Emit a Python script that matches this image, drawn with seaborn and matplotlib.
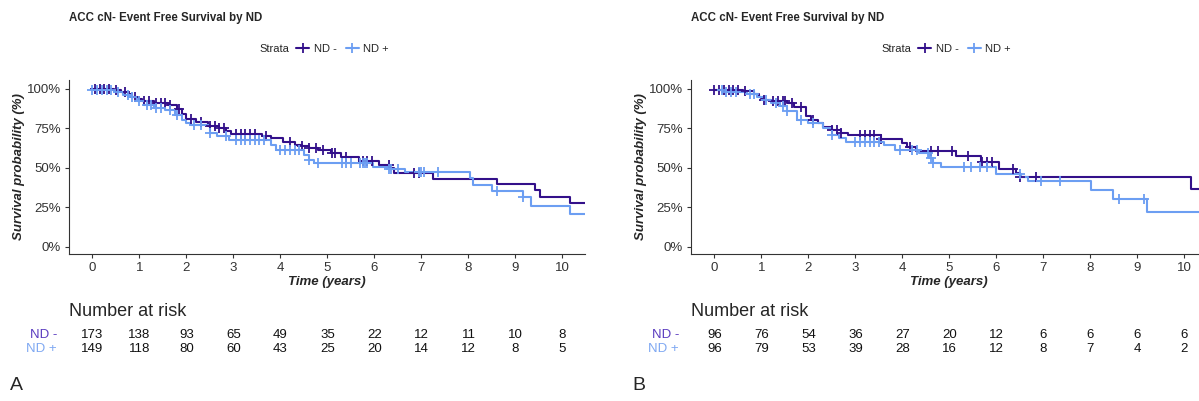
import numpy as np
import pandas as pd
import matplotlib
matplotlib.use("Agg")
import matplotlib.pyplot as plt
import seaborn as sns
from matplotlib.lines import Line2D
from matplotlib.transforms import blended_transform_factory

# ---------------- data ----------------
title = "ACC cN- Event Free Survival by ND"
strata = ["ND -", "ND +"]
risk_times = [0, 1, 2, 3, 4, 5, 6, 7, 8, 9, 10]
y_ticks = [0, 0.25, 0.5, 0.75, 1.0]
y_ticklabels = ["0%", "25%", "50%", "75%", "100%"]

# Panel A
A_neg_t = [0, 0.45, 0.6, 0.75, 0.85, 0.95, 1.05, 1.3, 1.6, 1.8, 1.9, 2.0, 2.2, 2.45, 2.7, 2.85, 2.95,
           3.6, 3.8, 4.05, 4.3, 4.45, 4.6, 4.8, 5.07, 5.28, 5.68, 6.1, 6.32, 6.42, 7.24, 8.6, 9.42,
           9.52, 10.16, 10.48]
A_neg_s = [1.0, 0.99, 0.98, 0.965, 0.95, 0.935, 0.92, 0.91, 0.895, 0.87, 0.84, 0.81, 0.79, 0.765,
           0.75, 0.73, 0.715, 0.70, 0.69, 0.665, 0.645, 0.635, 0.625, 0.61, 0.592, 0.567, 0.545,
           0.518, 0.497, 0.465, 0.431, 0.395, 0.359, 0.313, 0.275, 0.275]
A_pos_t = [0, 0.45, 0.65, 0.8, 0.95, 1.1, 1.3, 1.55, 1.75, 1.9, 2.0, 2.1, 2.5, 2.65, 2.9, 3.8, 3.9,
           4.5, 4.6, 4.72, 5.96, 6.3, 6.64, 8.03, 8.1, 8.5, 9.17, 9.34, 10.16, 10.48]
A_pos_s = [0.99, 0.98, 0.96, 0.945, 0.925, 0.9, 0.88, 0.865, 0.835, 0.80, 0.785, 0.77, 0.72, 0.70,
           0.676, 0.645, 0.613, 0.58, 0.55, 0.529, 0.507, 0.495, 0.474, 0.433, 0.391, 0.355, 0.313,
           0.258, 0.211, 0.211]
A_neg_cens = [0.05, 0.15, 0.25, 0.35, 0.5, 0.7, 0.9, 1.1, 1.2, 1.35, 1.45, 1.55, 1.65, 1.85, 2.1,
              2.3, 2.5, 2.6, 2.7, 2.8, 3.05, 3.15, 3.25, 3.35, 3.45, 3.7, 4.2, 4.45, 4.6, 4.75,
              4.9, 5.1, 5.15, 5.4, 5.75, 5.85, 5.95, 6.3, 6.85, 6.95]
A_pos_cens = [0.0, 0.1, 0.2, 0.3, 0.4, 0.55, 0.75, 0.85, 1.0, 1.15, 1.25, 1.35, 1.45, 1.65, 1.8,
              2.15, 2.3, 2.5, 2.85, 3.05, 3.15, 3.25, 3.35, 3.45, 3.55, 3.65, 4.0, 4.1, 4.2, 4.3,
              4.4, 4.6, 4.8, 5.3, 5.4, 5.5, 5.7, 5.75, 5.8, 5.85, 6.3, 6.35, 6.5, 6.95, 7.0, 7.05,
              7.35, 8.6, 9.17]
A_neg_risk = [173, 138, 93, 65, 49, 35, 22, 12, 11, 10, 8]
A_pos_risk = [149, 118, 80, 60, 43, 25, 20, 14, 12, 8, 5]

# Panel B
B_neg_t = [0, 0.6, 0.85, 0.95, 1.0, 1.05, 1.2, 1.55, 1.7, 1.95, 2.05, 2.2, 2.3, 2.5, 2.7, 2.85,
           3.55, 4.0, 4.1, 4.28, 5.14, 5.67, 6.06, 6.42, 6.5, 10.14, 10.6]
B_neg_s = [0.99, 0.983, 0.968, 0.95, 0.94, 0.93, 0.92, 0.909, 0.884, 0.825, 0.803, 0.782, 0.757,
           0.74, 0.719, 0.708, 0.681, 0.655, 0.634, 0.607, 0.575, 0.539, 0.493, 0.465, 0.44,
           0.368, 0.368]
B_pos_t = [0, 0.2, 0.7, 0.9, 1.05, 1.2, 1.4, 1.55, 1.75, 2.0, 2.3, 2.5, 2.65, 2.8, 3.6, 3.85, 4.35,
           4.57, 4.64, 4.82, 5.99, 6.53, 6.67, 8.02, 8.48, 9.2, 10.6]
B_pos_s = [0.99, 0.98, 0.968, 0.95, 0.93, 0.909, 0.888, 0.856, 0.803, 0.782, 0.75, 0.708, 0.687,
           0.666, 0.645, 0.61, 0.595, 0.56, 0.533, 0.503, 0.461, 0.444, 0.419, 0.359, 0.302,
           0.222, 0.222]
B_neg_cens = [0.0, 0.1, 0.2, 0.3, 0.4, 0.5, 0.65, 1.05, 1.25, 1.35, 1.45, 1.5, 1.65, 1.85, 2.1,
              2.5, 2.6, 2.7, 3.1, 3.2, 3.3, 3.4, 3.55, 4.15, 4.6, 4.75, 5.05, 5.4, 5.7, 5.8, 5.9,
              6.35, 6.5, 6.85]
B_pos_cens = [0.15, 0.25, 0.35, 0.45, 0.75, 0.85, 1.1, 1.3, 1.45, 1.55, 1.85, 2.1, 2.5, 3.0, 3.1,
              3.2, 3.3, 3.4, 3.5, 3.95, 4.2, 4.3, 4.55, 4.6, 4.65, 5.3, 5.45, 5.65, 5.8, 6.5, 6.95,
              7.35, 8.6, 9.15]
B_neg_risk = [96, 76, 54, 36, 27, 20, 12, 6, 6, 6, 6]
B_pos_risk = [96, 79, 53, 39, 28, 16, 12, 8, 7, 4, 2]

# ---------------- style ----------------
col_neg = "#33108A"
col_pos = "#6C9EF2"
txt_neg = "#5B3CC0"
txt_pos = "#7FA8F2"

sns.set_theme(style="white")
plt.rcParams["font.family"] = ["Liberation Sans", "DejaVu Sans"]

W, H = 1199, 401
fig = plt.figure(figsize=(W / 100, H / 100), dpi=100)


def step_at(times, surv, t):
    idx = np.searchsorted(np.array(times), t, side="right") - 1
    return np.array(surv)[np.clip(idx, 0, len(surv) - 1)]


def panel(x0, letter, neg_t, neg_s, pos_t, pos_s, neg_c, pos_c, neg_r, pos_r):
    # x0: pixel position of left axis line
    ax = fig.add_axes([x0 / W, 1 - 254 / H, 516 / W, (254 - 80) / H])
    for t, s, c, col, lab in [(neg_t, neg_s, neg_c, col_neg, strata[0]),
                              (pos_t, pos_s, pos_c, col_pos, strata[1])]:
        df = pd.DataFrame({"t": t, "s": s})
        sns.lineplot(data=df, x="t", y="s", drawstyle="steps-post", color=col,
                     linewidth=1.5, estimator=None, ax=ax)
        cdf = pd.DataFrame({"t": c, "s": step_at(t, s, np.array(c))})
        sns.scatterplot(data=cdf, x="t", y="s", marker="+", s=50, linewidth=1.3,
                        color=col, ax=ax, zorder=3)
    ax.set_xlim(-0.5, 10.48)
    ax.set_ylim(-0.045, 1.055)
    ax.set_xticks(risk_times)
    ax.set_yticks(y_ticks)
    ax.set_yticklabels(y_ticklabels)
    ax.tick_params(axis="both", which="both", length=3, width=0.8, color="#333333",
                   labelsize=9.5, labelcolor="#333333", pad=3, left=True, bottom=True)
    for side in ["top", "right"]:
        ax.spines[side].set_visible(False)
    for side in ["left", "bottom"]:
        ax.spines[side].set_color("#333333")
        ax.spines[side].set_linewidth(0.8)
    ax.set_xlabel("Time (years)", fontsize=9.5, fontweight="bold", fontstyle="italic",
                  labelpad=1)
    ax.set_ylabel("Survival probability (%)", fontsize=9.5, fontweight="bold",
                  fontstyle="italic", labelpad=1)
    ax.text(0, 1.356, title, transform=ax.transAxes, fontsize=8.3, fontweight="bold",
            ha="left", va="center")
    # legend
    handles = [Line2D([0], [0], color=col_neg, lw=1.5, marker="+", markersize=7,
                      markeredgewidth=1.3),
               Line2D([0], [0], color=col_pos, lw=1.5, marker="+", markersize=7,
                      markeredgewidth=1.3)]
    ax.legend(handles, strata, ncol=2, loc="center left", frameon=False,
              bbox_to_anchor=(0.44, 1.178), fontsize=8, handlelength=1.2,
              handletextpad=0.4, columnspacing=0.8, borderaxespad=0, borderpad=0)
    ax.text(0.428, 1.178, "Strata", transform=ax.transAxes, fontsize=8, ha="right",
            va="center")
    # risk table
    tr = blended_transform_factory(ax.transData, fig.transFigure)
    fig.text(x0 / W, 1 - 312 / H, "Number at risk", fontsize=13, ha="left",
             va="center")
    for r, y, tcol, lab in [(neg_r, 335, txt_neg, strata[0]), (pos_r, 349, txt_pos, strata[1])]:
        fig.text((x0 - 12) / W, 1 - y / H, lab, fontsize=9.5, color=tcol, ha="right",
                 va="center")
        for t, n in zip(risk_times, r):
            ax.text(t, 1 - y / H, str(n), transform=tr, fontsize=9.5, ha="center",
                    va="center", color="#111111")
    fig.text((x0 - 59) / W, 1 - 385 / H, letter, fontsize=14, ha="left", va="center")
    return ax


panel(69, "A", A_neg_t, A_neg_s, A_pos_t, A_pos_s, A_neg_cens, A_pos_cens, A_neg_risk, A_pos_risk)
panel(691, "B", B_neg_t, B_neg_s, B_pos_t, B_pos_s, B_neg_cens, B_pos_cens, B_neg_risk, B_pos_risk)

fig.savefig("out.png", dpi=100)
